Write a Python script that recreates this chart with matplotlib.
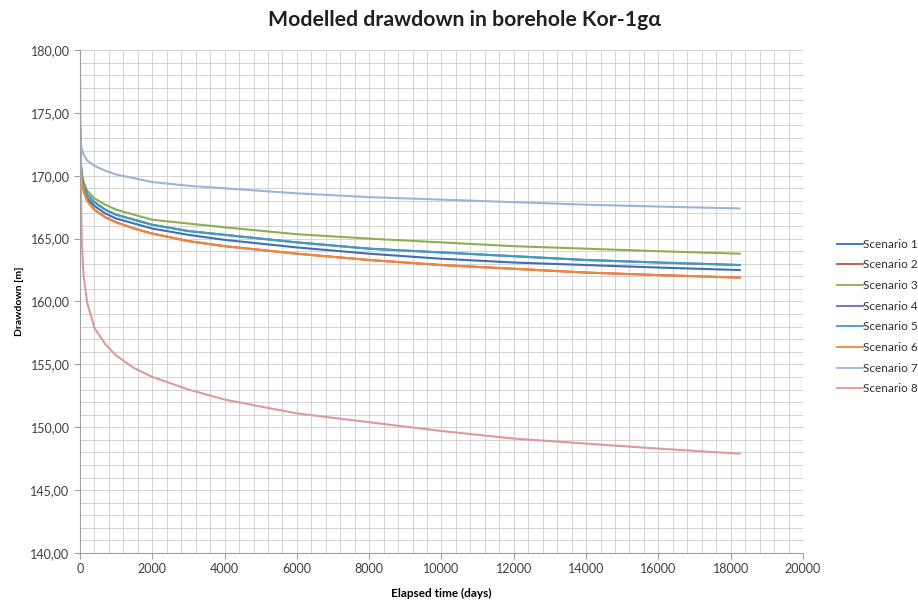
import matplotlib
matplotlib.use("Agg")
import matplotlib.pyplot as plt
from matplotlib.ticker import MultipleLocator, FuncFormatter

plt.rcParams["font.family"] = ["Lato", "DejaVu Sans"]

# Elapsed time (days) at which the modelled heads are listed
days = [0, 25, 50, 100, 200, 400, 700, 1000, 1500, 2000, 3000, 4000,
        6000, 8000, 10000, 12000, 14000, 16000, 18250]

# Drawdown [m] per scenario
scenario_1 = [173.6, 170.6, 169.8, 169.0, 168.2, 167.6, 167.0, 166.6, 166.2, 165.8, 165.3, 164.9,
              164.3, 163.8, 163.4, 163.1, 162.9, 162.7, 162.5]
scenario_2 = [173.4, 170.5, 169.6, 168.8, 168.0, 167.3, 166.7, 166.3, 165.8, 165.4, 164.8, 164.4,
              163.8, 163.3, 162.9, 162.6, 162.3, 162.1, 161.9]
scenario_3 = [174.0, 171.0, 170.2, 169.5, 168.8, 168.2, 167.7, 167.3, 166.9, 166.5, 166.2, 165.9,
              165.35, 165.0, 164.7, 164.4, 164.2, 164.0, 163.8]
scenario_4 = [173.8, 170.8, 170.0, 169.2, 168.5, 167.9, 167.3, 166.9, 166.5, 166.1, 165.6, 165.3,
              164.7, 164.2, 163.9, 163.6, 163.3, 163.1, 162.9]
scenario_5 = [173.8, 170.8, 170.0, 169.2, 168.5, 167.9, 167.3, 166.9, 166.5, 166.1, 165.6, 165.3,
              164.7, 164.2, 163.9, 163.6, 163.3, 163.1, 162.9]
scenario_6 = [173.4, 170.5, 169.6, 168.8, 168.0, 167.3, 166.7, 166.3, 165.8, 165.4, 164.8, 164.4,
              163.8, 163.3, 162.9, 162.6, 162.3, 162.1, 161.9]
scenario_7 = [174.0, 172.6, 172.1, 171.7, 171.2, 170.8, 170.4, 170.1, 169.8, 169.5, 169.2, 169.0,
              168.6, 168.3, 168.1, 167.9, 167.7, 167.55, 167.4]
scenario_8 = [178.5, 169.0, 164.7, 162.0, 159.9, 157.9, 156.6, 155.7, 154.7, 154.0, 153.0, 152.2,
              151.1, 150.4, 149.7, 149.1, 148.7, 148.3, 147.9]

labels = ["Scenario 1", "Scenario 2", "Scenario 3", "Scenario 4",
          "Scenario 5", "Scenario 6", "Scenario 7", "Scenario 8"]
series = [scenario_1, scenario_2, scenario_3, scenario_4,
          scenario_5, scenario_6, scenario_7, scenario_8]
colors = ["#3F6FB0", "#C0504D", "#8DB04E", "#7E64A2",
          "#3C9FBF", "#F0883A", "#9BB4DA", "#DE9A98"]

fig = plt.figure(figsize=(9.18, 6.02), dpi=100)
ax = fig.add_axes([80 / 918, 1 - 553 / 602, 723 / 918, 503 / 602])

for y, lab, c in zip(series, labels, colors):
    ax.plot(days, y, color=c, linewidth=1.5, label=lab)

ax.set_xlim(0, 20000)
ax.set_ylim(140, 180)
ax.xaxis.set_major_locator(MultipleLocator(2000))
ax.xaxis.set_minor_locator(MultipleLocator(400))
ax.yaxis.set_major_locator(MultipleLocator(5))
ax.yaxis.set_minor_locator(MultipleLocator(1))
ax.yaxis.set_major_formatter(FuncFormatter(lambda v, _: f"{v:.2f}".replace(".", ",")))

ax.grid(True, which="both", color="#CCCCCC", linewidth=0.6)
ax.set_axisbelow(True)
for side in ("top", "right"):
    ax.spines[side].set_visible(False)
for side in ("left", "bottom"):
    ax.spines[side].set_color("#A0A0A0")
    ax.spines[side].set_linewidth(0.8)
ax.tick_params(which="major", length=4, color="#A0A0A0", labelsize=9, labelcolor="#404040")
ax.tick_params(which="minor", length=0)

ax.set_xlabel("Elapsed time (days)", fontsize=8.5, fontweight="bold", labelpad=9)
ax.set_ylabel("Drawdown [m]", fontsize=7.5, fontweight="bold", labelpad=5)
fig.text(465 / 918, 1 - 20 / 602, "Modelled drawdown in borehole Kor-1gα",
         ha="center", va="center", fontsize=15.3, fontweight="bold", color="#202020")

leg = fig.legend(loc="upper left", bbox_to_anchor=(832 / 918, 1 - 234 / 602),
                 frameon=False, fontsize=8.5, handlelength=2.2, handletextpad=0.0,
                 labelspacing=0.82, borderaxespad=0, labelcolor="#303030")
for line in leg.get_lines():
    line.set_linewidth(1.3)

fig.savefig("out.png", dpi=100)
